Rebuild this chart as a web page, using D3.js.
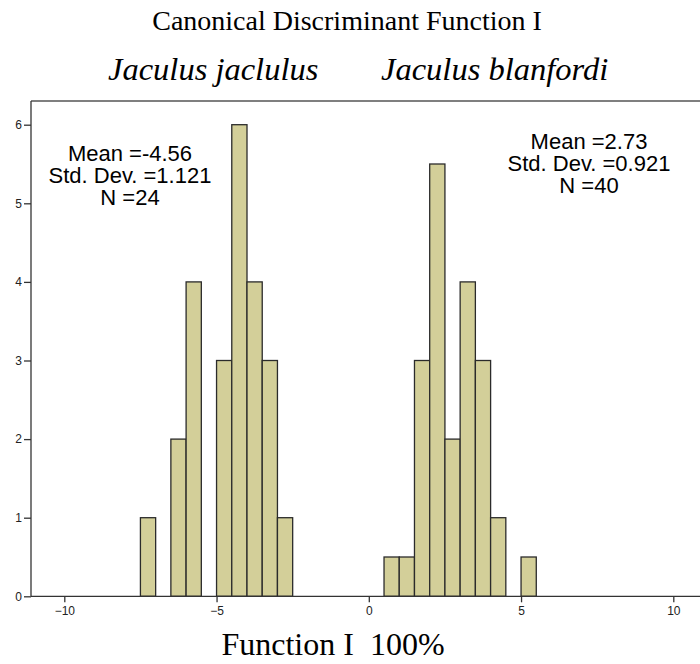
<!DOCTYPE html>
<html>
<head>
<meta charset="utf-8">
<script src="https://cdn.jsdelivr.net/npm/d3@7"></script>
<style>
  body { margin: 0; background: #fff; }
  svg { display: block; }
</style>
</head>
<body>
<div id="chart"></div>
<script>
// histogram bins, width 0.5 (start of each bin)
var binWidth = 0.5;
var jaculusStarts = [-8, -7.5, -7, -6.5, -6, -5.5, -5, -4.5, -4, -3.5, -3, -2.5];
var jaculusCounts = [0, 1, 0, 2, 4, 0, 3, 6, 4, 3, 1, 0];
var blanfordiStarts = [0, 0.5, 1, 1.5, 2, 2.5, 3, 3.5, 4, 4.5, 5, 5.5];
var blanfordiCounts = [0, 0.5, 0.5, 3, 5.5, 2, 4, 3, 1, 0, 0.5, 0];

var xTicks = [-10, -5, 0, 5, 10];
var yTicks = [0, 1, 2, 3, 4, 5, 6];

var statsLeft = ["Mean =-4.56", "Std. Dev. =1.121", "N =24"];
var statsRight = ["Mean =2.73", "Std. Dev. =0.921", "N =40"];

const width = 700, height = 664;

const svg = d3.select("#chart")
    .append("svg")
    .attr("width", width)
    .attr("height", height);

const x = d3.scaleLinear().domain([-10, 10]).range([64.3, 673.3]);
const y = d3.scaleLinear().domain([0, 6]).range([596.3, 124.7]);

const frameL = 31, frameT = 101, frameB = y(0), frameR = 706;

// frame
svg.append("line")
    .attr("x1", frameL).attr("x2", frameR)
    .attr("y1", frameT).attr("y2", frameT)
    .attr("stroke", "#555").attr("stroke-width", 1.3);

// bars
function drawBars(starts, counts) {
  var data = starts.map(function(s, i) { return {x0: s, n: counts[i]}; });
  svg.append("g").selectAll("rect")
      .data(data)
      .enter()
      .append("rect")
      .attr("x", function(d) { return x(d.x0); })
      .attr("width", function(d) { return x(d.x0 + binWidth) - x(d.x0); })
      .attr("y", function(d) { return y(d.n); })
      .attr("height", function(d) { return y(0) - y(d.n); })
      .attr("fill", "#d3cf99")
      .attr("stroke", "#2b2b2b")
      .attr("stroke-width", 1.3);
}
drawBars(jaculusStarts, jaculusCounts);
drawBars(blanfordiStarts, blanfordiCounts);

// y axis
const yAxis = svg.append("g")
    .attr("transform", "translate(" + frameL + ",0)")
    .call(d3.axisLeft(y).tickValues(yTicks).tickSize(7).tickSizeOuter(0).tickFormat(d3.format("d")));
yAxis.select(".domain").attr("d", "M0," + frameT + "V" + frameB);

// x axis
const xAxis = svg.append("g")
    .attr("transform", "translate(0," + frameB + ")")
    .call(d3.axisBottom(x).tickValues(xTicks).tickSize(6).tickSizeOuter(0).tickFormat(d3.format("d")));
xAxis.select(".domain").attr("d", "M" + frameL + ",0H" + frameR);

svg.selectAll(".domain, .tick line").attr("stroke", "#333").attr("stroke-width", 1.3);
svg.selectAll(".tick text")
    .attr("fill", "#222")
    .style("font-family", "'Liberation Sans', Arial, sans-serif")
    .style("font-size", "12px");
yAxis.selectAll(".tick text").attr("x", -9);
xAxis.selectAll(".tick text").attr("y", 10);

// stats annotations
function drawStats(lines, cx, y0) {
  svg.append("g").selectAll("text")
      .data(lines)
      .enter()
      .append("text")
      .attr("x", cx)
      .attr("y", function(d, i) { return y0 + i * 22; })
      .attr("text-anchor", "middle")
      .style("font-family", "'Liberation Sans', Arial, sans-serif")
      .style("font-size", "22px")
      .attr("fill", "#000")
      .text(function(d) { return d; });
}
drawStats(statsLeft, 130, 161);
drawStats(statsRight, 589, 149);

// titles
svg.append("text")
    .attr("x", 347).attr("y", 30)
    .attr("text-anchor", "middle")
    .style("font-family", "'Liberation Serif', 'Times New Roman', serif")
    .style("font-size", "28px")
    .text("Canonical Discriminant Function I");

svg.append("text")
    .attr("x", 108).attr("y", 80)
    .style("font-family", "'Liberation Serif', 'Times New Roman', serif")
    .style("font-style", "italic")
    .style("font-size", "32.5px")
    .text("Jaculus jaclulus");

svg.append("text")
    .attr("x", 381).attr("y", 80)
    .style("font-family", "'Liberation Serif', 'Times New Roman', serif")
    .style("font-style", "italic")
    .style("font-size", "32.5px")
    .text("Jaculus blanfordi");

svg.append("text")
    .attr("x", 333).attr("y", 655)
    .attr("text-anchor", "middle")
    .attr("xml:space", "preserve")
    .style("white-space", "pre")
    .style("font-family", "'Liberation Serif', 'Times New Roman', serif")
    .style("font-size", "32px")
    .text("Function I  100%");
</script>
</body>
</html>
